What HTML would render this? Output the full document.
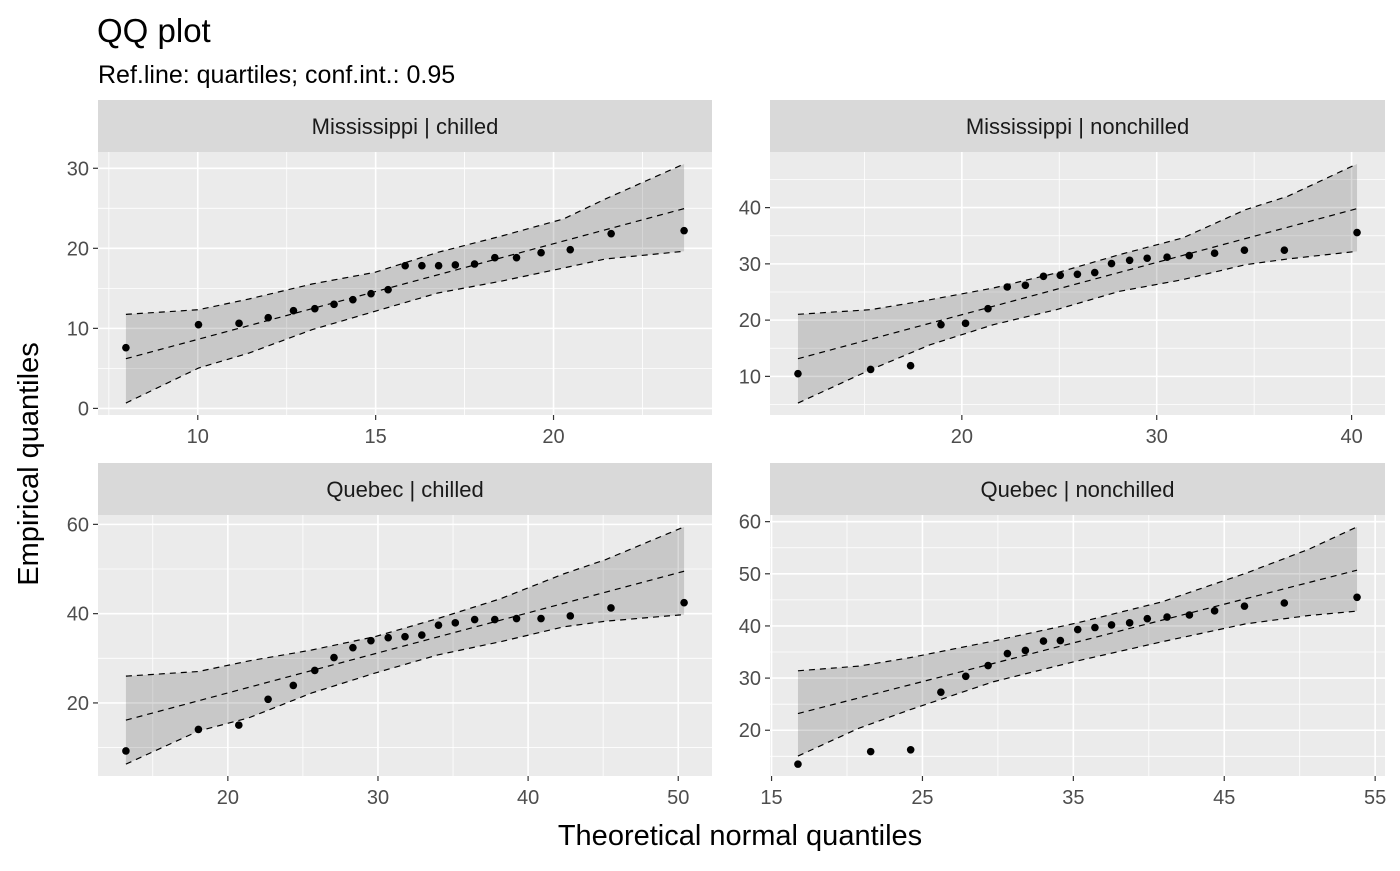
<!DOCTYPE html>
<html><head><meta charset="utf-8">
<style>
body{margin:0;background:#fff;}
svg text{font-family:"Liberation Sans",Arial,sans-serif;}
</style></head>
<body>
<svg id="chart" width="1400" height="866" viewBox="0 0 1400 866" xmlns="http://www.w3.org/2000/svg">
<rect width="1400" height="866" fill="#fff"/>
<text x="97" y="42" font-size="33" fill="#000">QQ plot</text>
<text x="98" y="83" font-size="25" fill="#000">Ref.line: quartiles; conf.int.: 0.95</text>
<text x="740" y="845" font-size="29" fill="#000" text-anchor="middle">Theoretical normal quantiles</text>
<text x="0" y="0" font-size="29" fill="#000" text-anchor="middle" transform="translate(38,464) rotate(-90)">Empirical quantiles</text>
<g id="panels"></g>
</svg>
<script>
// ---- Mississippi | chilled ----
const tlX=[7.98,10.02,11.16,11.98,12.69,13.29,13.83,14.36,14.87,15.35,15.83,16.30,16.77,17.24,17.78,18.35,18.96,19.65,20.47,21.62,23.67];
const tlY=[7.58,10.46,10.63,11.33,12.21,12.46,13.0,13.58,14.33,14.83,17.83,17.83,17.83,17.92,18.04,18.83,18.83,19.46,19.83,21.83,22.21];
const tlBandX=[7.98,10.02,11.44,13.21,14.98,16.75,18.51,20.28,21.46,23.67];
const tlUpper=[11.75,12.33,13.67,15.54,17.0,19.5,21.5,23.67,26.17,30.54];
const tlLower=[0.67,5.04,6.92,9.83,12.13,14.42,15.88,17.54,18.67,19.63];
const tlRef=[[7.98,6.21],[23.67,24.96]];
const tlXTicks=[10,15,20], tlXMinor=[7.5,12.5,17.5,22.5];
const tlYTicks=[0,10,20,30], tlYMinor=[5,15,25];
// ---- Mississippi | nonchilled ----
const trX=[11.59,15.32,17.37,18.93,20.19,21.34,22.33,23.26,24.19,25.05,25.93,26.82,27.68,28.61,29.51,30.53,31.67,32.97,34.50,36.55,40.28];
const trY=[10.47,11.24,11.90,19.19,19.43,22.04,25.89,26.19,27.79,27.97,28.15,28.45,30.05,30.64,31.0,31.18,31.48,31.89,32.43,32.43,35.57];
const trBandX=[11.59,15.32,18.38,21.62,24.85,28.09,31.33,34.56,36.72,40.28];
const trUpper=[21.03,21.86,23.63,25.71,28.38,31.64,34.60,39.64,42.01,47.76];
const trLower=[5.26,11.19,15.63,19.19,21.86,25.12,27.19,29.86,30.87,32.23];
const trRef=[[11.59,13.14],[40.28,39.82]];
const trXTicks=[20,30,40], trXMinor=[15,25,35];
const trYTicks=[10,20,30,40], trYMinor=[5,15,25,35,45];
// ---- Quebec | chilled ----
const blX=[13.21,18.04,20.73,22.68,24.36,25.79,27.07,28.33,29.53,30.68,31.80,32.92,34.03,35.15,36.44,37.78,39.23,40.86,42.81,45.52,50.39];
const blY=[9.25,14.07,15.03,20.82,23.93,27.27,30.16,32.38,33.94,34.61,34.83,35.2,37.42,37.94,38.68,38.68,38.9,38.9,39.5,41.27,42.45];
const blBandX=[13.21,18.04,21.40,25.59,29.78,33.98,38.17,42.37,45.16,50.39];
const blUpper=[26.0,27.04,29.41,31.86,34.83,38.9,43.35,48.91,52.1,59.44];
const blLower=[6.29,13.70,16.67,22.23,26.67,30.75,33.72,37.05,38.31,39.79];
const blRef=[[13.21,16.15],[50.39,49.5]];
const blXTicks=[20,30,40,50], blXMinor=[15,25,35,45];
const blYTicks=[20,40,60], blYMinor=[10,30,50];
// ---- Quebec | nonchilled ----
const brX=[16.75,21.57,24.22,26.22,27.87,29.35,30.63,31.82,33.02,34.14,35.29,36.43,37.53,38.73,39.90,41.21,42.69,44.36,46.34,48.98,53.8];
const brY=[13.5,15.9,16.25,27.3,30.35,32.4,34.7,35.3,37.1,37.2,39.3,39.7,40.2,40.6,41.4,41.7,42.1,42.9,43.8,44.4,45.5];
const brBandX=[16.75,20.8,24.14,29.7,35.28,40.85,46.42,50.6,53.8];
const brUpper=[31.4,32.3,33.9,37.1,40.6,44.6,50.1,54.7,59.0];
const brLower=[15.05,20.4,23.9,29.3,33.3,36.95,40.4,42.0,42.85];
const brRef=[[16.75,23.2],[53.8,50.7]];
const brXTicks=[15,25,35,45,55], brXMinor=[20,30,40,50];
const brYTicks=[20,30,40,50,60], brYMinor=[15,25,35,45,55];

const NS="http://www.w3.org/2000/svg";
const root=document.getElementById('panels');
function mk(tag,attrs,parent){const e=document.createElementNS(NS,tag);for(const k in attrs)e.setAttribute(k,attrs[k]);parent.appendChild(e);return e;}

function panel(key,label,L,R,T,B,px,py,bx,up,lo,ref,xt,xm,yt,ym){
  const g=mk('g',{},root);
  
  
  const st=mk('rect',{x:L,y:T-52,width:R-L,height:52,fill:'#d9d9d9'},g);
  
  
  const stt=mk('text',{x:(L+R)/2,y:T-18,'font-size':22,fill:'#1a1a1a','text-anchor':'middle'},g);
  stt.textContent=label;
  
  
  const allX=px.concat(bx), allY=py.concat(up,lo);
  let x0=Math.min(...allX),x1=Math.max(...allX),y0=Math.min(...allY),y1=Math.max(...allY);
  const dx=(x1-x0)*0.05, dy=(y1-y0)*0.05; x0-=dx;x1+=dx;y0-=dy;y1+=dy;
  const sx=v=>L+(v-x0)/(x1-x0)*(R-L);
  const sy=v=>B-(v-y0)/(y1-y0)*(B-T);
  const bg=mk('rect',{x:L,y:T,width:R-L,height:B-T,fill:'#ebebeb'},g);
  
  
  xm.forEach(v=>{const l=mk('line',{x1:sx(v),x2:sx(v),y1:T,y2:B,stroke:'#fff','stroke-width':0.8},g);});
  ym.forEach(v=>{const l=mk('line',{x1:L,x2:R,y1:sy(v),y2:sy(v),stroke:'#fff','stroke-width':0.8},g);});
  xt.forEach(v=>{const l=mk('line',{x1:sx(v),x2:sx(v),y1:T,y2:B,stroke:'#fff','stroke-width':1.6},g);
    const tk=mk('line',{x1:sx(v),x2:sx(v),y1:B,y2:B+5,stroke:'#333','stroke-width':1.2},g);
    const t=mk('text',{x:sx(v),y:B+28,'font-size':20,fill:'#4d4d4d','text-anchor':'middle'},g);t.textContent=v;});
  yt.forEach(v=>{const l=mk('line',{x1:L,x2:R,y1:sy(v),y2:sy(v),stroke:'#fff','stroke-width':1.6},g);
    const tk=mk('line',{x1:L-5,x2:L,y1:sy(v),y2:sy(v),stroke:'#333','stroke-width':1.2},g);
    const t=mk('text',{x:L-9,y:sy(v)+7,'font-size':20,fill:'#4d4d4d','text-anchor':'end'},g);t.textContent=v;});
  let d='M'+bx.map((v,i)=>sx(v)+','+sy(up[i])).join(' L');
  for(let i=bx.length-1;i>=0;i--) d+=' L'+sx(bx[i])+','+sy(lo[i]);
  d+='Z';
  const band=mk('path',{d:d,fill:'#000','fill-opacity':0.15},g);
  
  
  const u=mk('polyline',{points:bx.map((v,i)=>sx(v)+','+sy(up[i])).join(' '),fill:'none',stroke:'#000','stroke-width':1.2,'stroke-dasharray':'6,5'},g);
  
  
  const lw=mk('polyline',{points:bx.map((v,i)=>sx(v)+','+sy(lo[i])).join(' '),fill:'none',stroke:'#000','stroke-width':1.2,'stroke-dasharray':'6,5'},g);
  
  
  const rl=mk('line',{x1:sx(ref[0][0]),y1:sy(ref[0][1]),x2:sx(ref[1][0]),y2:sy(ref[1][1]),stroke:'#000','stroke-width':1.2,'stroke-dasharray':'6,5'},g);
  
  
  px.forEach((v,i)=>{const c=mk('circle',{cx:sx(v),cy:sy(py[i]),r:3.8,fill:'#000'},g);
    
    });
}
panel('mississippi-chilled','Mississippi | chilled',98,712,152,415,tlX,tlY,tlBandX,tlUpper,tlLower,tlRef,tlXTicks,tlXMinor,tlYTicks,tlYMinor);
panel('mississippi-nonchilled','Mississippi | nonchilled',770,1385,152,415,trX,trY,trBandX,trUpper,trLower,trRef,trXTicks,trXMinor,trYTicks,trYMinor);
panel('quebec-chilled','Quebec | chilled',98,712,515,776,blX,blY,blBandX,blUpper,blLower,blRef,blXTicks,blXMinor,blYTicks,blYMinor);
panel('quebec-nonchilled','Quebec | nonchilled',770,1385,515,776,brX,brY,brBandX,brUpper,brLower,brRef,brXTicks,brXMinor,brYTicks,brYMinor);
</script>
</body></html>
